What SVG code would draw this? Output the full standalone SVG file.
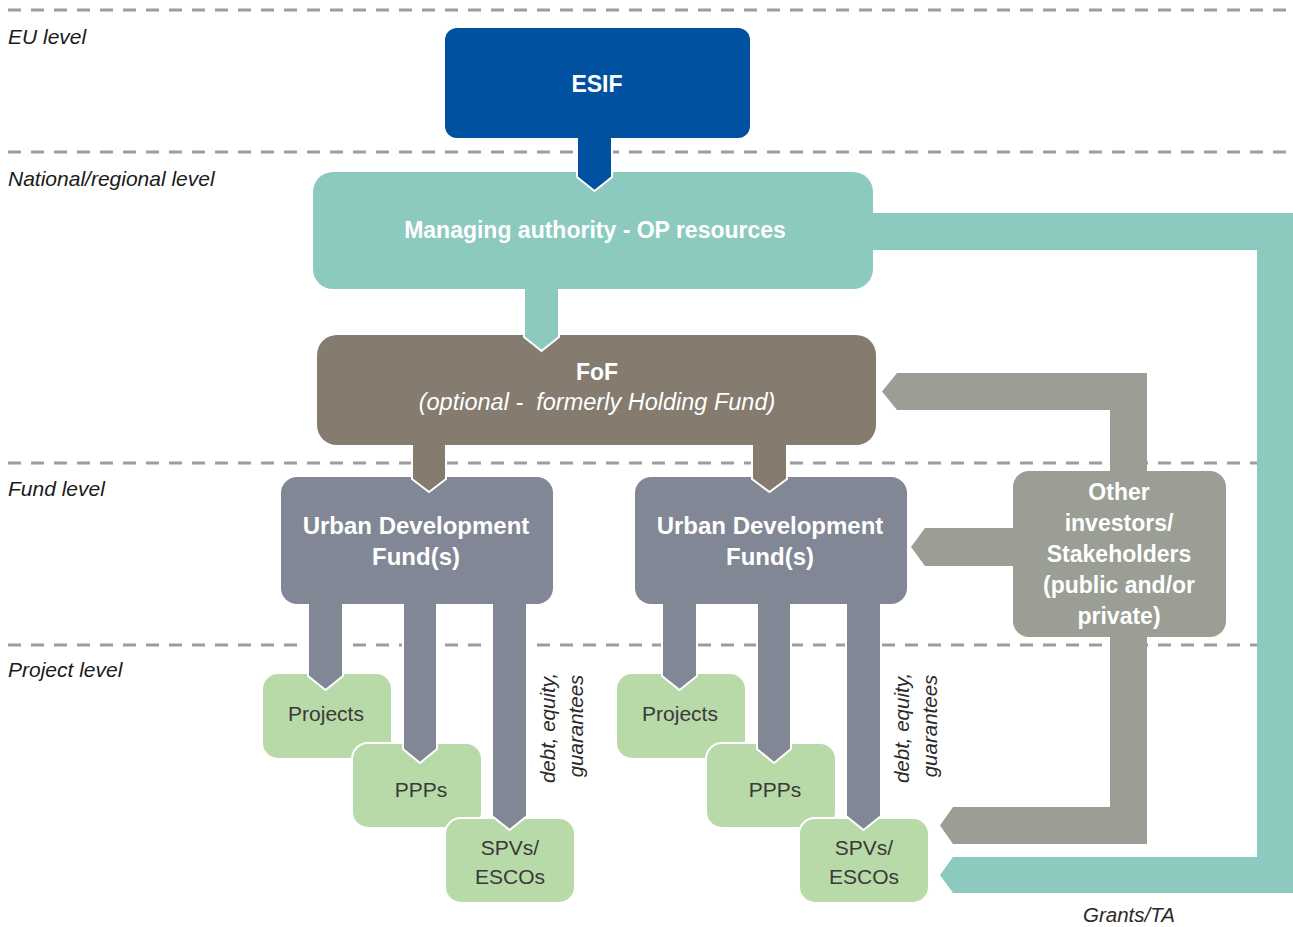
<svg xmlns="http://www.w3.org/2000/svg" width="1293" height="927" viewBox="0 0 1293 927">
<style>
.dash{stroke:#9d9d9d;stroke-width:3;stroke-dasharray:13 10;fill:none}
.lvl{font-family:"Liberation Sans",Arial,sans-serif;font-style:italic;font-size:21px;fill:#1a1a1a}
.wb{font-family:"Liberation Sans",Arial,sans-serif;font-weight:bold;font-size:23px;fill:#ffffff;text-anchor:middle}
.wi{font-family:"Liberation Sans",Arial,sans-serif;font-style:italic;font-size:23.5px;fill:#ffffff;text-anchor:middle}
.gt{font-family:"Liberation Sans",Arial,sans-serif;font-size:21px;fill:#3a3a3a;text-anchor:middle}
.it{font-family:"Liberation Sans",Arial,sans-serif;font-style:italic;font-size:20.5px;fill:#2a2a2a;text-anchor:middle}
.green{fill:#b8d9a8;stroke:#ffffff;stroke-width:2}
.udf{fill:#818795}
.ut{font-size:24px}
.ar{stroke:#ffffff;stroke-width:2;stroke-linejoin:miter}
</style>
<g id="levels">
<line class="dash" x1="8" y1="10" x2="1293" y2="10"/>
<line class="dash" x1="8" y1="152" x2="1293" y2="152"/>
<line class="dash" x1="8" y1="463" x2="1293" y2="463"/>
<line class="dash" x1="8" y1="645" x2="1293" y2="645"/>
<text class="lvl" x="8" y="44">EU level</text>
<text class="lvl" x="8" y="186">National/regional level</text>
<text class="lvl" x="8" y="496">Fund level</text>
<text class="lvl" x="8" y="677">Project level</text>
</g>
<g id="esif">
<rect x="445" y="28" width="305" height="110" rx="12" fill="#0051a0"/>
<text class="wb" x="597" y="92" font-size="22">ESIF</text>
</g>
<g id="managing-authority">
<rect x="313" y="172" width="560" height="117" rx="20" fill="#8ccac0"/>
<text class="wb" x="595" y="238">Managing authority - OP resources</text>
</g>
<g id="fof">
<rect x="317" y="335" width="559" height="110" rx="20" fill="#857b6e"/>
<text class="wb" x="597" y="380">FoF</text>
<text class="wi" x="597" y="410" xml:space="preserve">(optional -  formerly Holding Fund)</text>
</g>
<g id="udf-left">
<rect class="udf" x="281" y="477" width="272" height="127" rx="16"/>
<text class="wb ut" x="416" y="534">Urban Development</text>
<text class="wb ut" x="416" y="565">Fund(s)</text>
</g>
<g id="udf-right">
<rect class="udf" x="635" y="477" width="272" height="127" rx="16"/>
<text class="wb ut" x="770" y="534">Urban Development</text>
<text class="wb ut" x="770" y="565">Fund(s)</text>
</g>
<g id="other-investors">
<rect x="1013" y="471" width="213" height="166" rx="16" fill="#9a9e94"/>
<text class="wb" x="1119" y="500">Other</text>
<text class="wb" x="1119" y="531">investors/</text>
<text class="wb" x="1119" y="562">Stakeholders</text>
<text class="wb" x="1119" y="593">(public and/or</text>
<text class="wb" x="1119" y="624">private)</text>
</g>
<g id="projects-left">
<rect class="green" x="262" y="673" width="130" height="86" rx="16"/>
<text class="gt" x="326" y="721">Projects</text>
</g>
<g id="ppps-left">
<rect class="green" x="352" y="743" width="130" height="85" rx="16"/>
<text class="gt" x="421" y="797">PPPs</text>
</g>
<g id="spvs-left">
<rect class="green" x="445" y="818" width="130" height="85" rx="16"/>
<text class="gt" x="510" y="855">SPVs/</text>
<text class="gt" x="510" y="884">ESCOs</text>
</g>
<g id="projects-right">
<rect class="green" x="616" y="673" width="130" height="86" rx="16"/>
<text class="gt" x="680" y="721">Projects</text>
</g>
<g id="ppps-right">
<rect class="green" x="706" y="743" width="130" height="85" rx="16"/>
<text class="gt" x="775" y="797">PPPs</text>
</g>
<g id="spvs-right">
<rect class="green" x="799" y="818" width="130" height="85" rx="16"/>
<text class="gt" x="864" y="855">SPVs/</text>
<text class="gt" x="864" y="884">ESCOs</text>
</g>
<g id="connectors">
<path class="ar" fill="#0051a0" d="M577,138 L577,177 L594.5,191 L612,177 L612,138"/>
<path class="ar" fill="#8ccac0" d="M524,289 L524,337 L541.5,351 L559,337 L559,289"/>
<path class="ar" fill="#857b6e" d="M412,445 L412,479 L429,492 L446,479 L446,445"/>
<path class="ar" fill="#857b6e" d="M752,445 L752,479 L769.5,492 L787,479 L787,445"/>
<path class="ar" fill="#818795" d="M308,604 L308,676 L325.5,690 L343,676 L343,604"/>
<path class="ar" fill="#818795" d="M403,604 L403,749 L420,763 L437,749 L437,604"/>
<path class="ar" fill="#818795" d="M492,604 L492,816 L509.5,830 L527,816 L527,604"/>
<path class="ar" fill="#818795" d="M662,604 L662,676 L679.5,690 L697,676 L697,604"/>
<path class="ar" fill="#818795" d="M757,604 L757,749 L774,763 L791,749 L791,604"/>
<path class="ar" fill="#818795" d="M846,604 L846,816 L863.5,830 L881,816 L881,604"/>
<path fill="#8ccac0" d="M873,213 L1293,213 L1293,893 L953,893 L940,875 L953,857 L1257,857 L1257,250 L873,250 Z"/>
<path fill="#9a9e94" d="M1110,471 L1110,410 L897,410 L882,391.5 L897,373 L1147,373 L1147,471 Z"/>
<path fill="#9a9e94" d="M1110,637 L1110,807 L953,807 L940,825.5 L953,844 L1147,844 L1147,637 Z"/>
<path fill="#9a9e94" d="M1013,528 L925,528 L911,547 L925,566 L1013,566 Z"/>
<text class="it" transform="translate(555,728) rotate(-90)">debt, equity,</text>
<text class="it" transform="translate(583,726) rotate(-90)">guarantees</text>
<text class="it" transform="translate(909,728) rotate(-90)">debt, equity,</text>
<text class="it" transform="translate(937,726) rotate(-90)">guarantees</text>
<text class="it" x="1129" y="922">Grants/TA</text>
</g>
</svg>
